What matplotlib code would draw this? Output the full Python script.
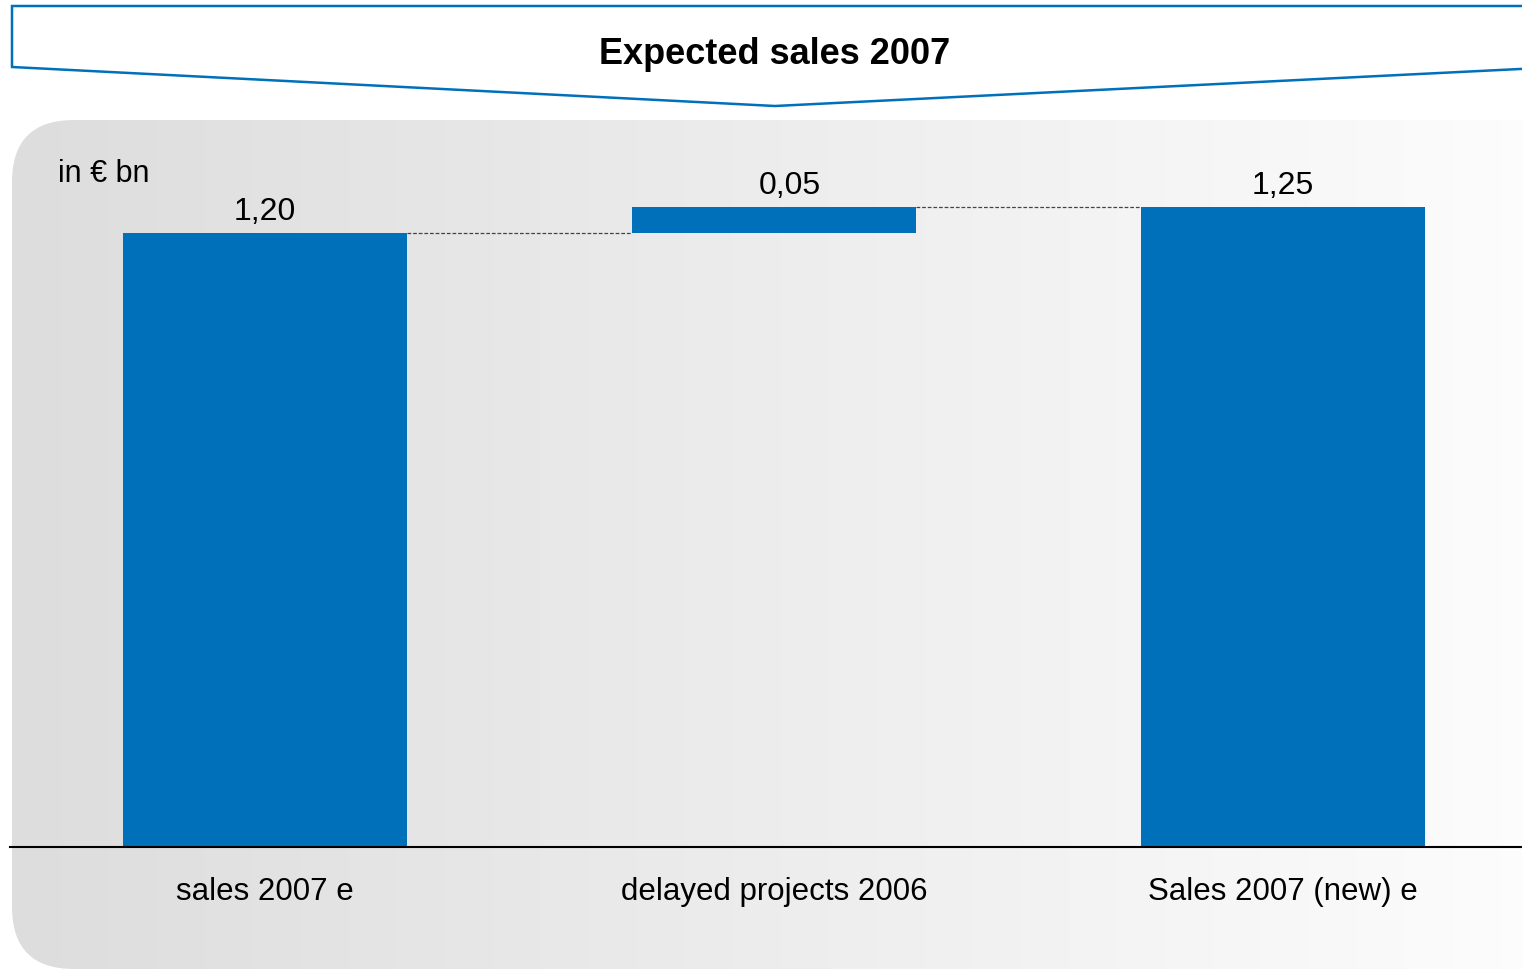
import matplotlib
matplotlib.use("Agg")
import matplotlib.pyplot as plt
import numpy as np
from matplotlib.patches import FancyBboxPatch, Polygon

plt.rcParams["font.family"] = ["Liberation Sans", "DejaVu Sans"]

# data (in EUR bn)
categories = ["sales 2007 e", "delayed projects 2006", "Sales 2007 (new) e"]
start_value = 1.20
delta_value = 0.05
title = "Expected sales 2007"
unit_label = "in € bn"

values = [start_value, delta_value, start_value + delta_value]
bottoms = [0, start_value, 0]
labels = [f"{v:.2f}".replace(".", ",") for v in values]

W, H = 1522, 971
BLUE = "#0070ba"

fig = plt.figure(figsize=(W / 100, H / 100), dpi=100)
fig.patch.set_facecolor("white")

# background layer in pixel coordinates
bg = fig.add_axes([0, 0, 1, 1], zorder=0)
bg.axis("off")

grad = np.linspace(221, 254, 512) / 255.0
grad = np.dstack([grad, grad, grad])
im = bg.imshow(grad, extent=(12, 1600, 1050, 120), aspect="auto",
               interpolation="bilinear")
box = FancyBboxPatch((12, 120), 1700, 849,
                     boxstyle="round,pad=0,rounding_size=62",
                     facecolor="none", edgecolor="none")
bg.add_patch(box)
im.set_clip_path(box)
bg.set_xlim(0, W)
bg.set_ylim(H, 0)

banner = Polygon([(12, 6), (1540, 6), (1540, 68), (775, 106), (12, 67)],
                 closed=True, facecolor="white", edgecolor=BLUE,
                 linewidth=1.8, clip_on=False)
bg.add_patch(banner)
bg.text(775, 54, title, ha="center", va="center", fontsize=26,
        fontweight="bold", color="black")
bg.text(58, 174, unit_label, ha="left", va="center", fontsize=22)

# chart axes: baseline at y=847 px, 1 bn = 511.7 px
base_px, top_px = 847, 120
ax = fig.add_axes([0, (H - base_px) / H, 1, (base_px - top_px) / H], zorder=1)
ax.patch.set_alpha(0)
x = np.arange(len(categories))
ax.set_xlim(-265 / 509, (W - 265) / 509)
ax.set_ylim(0, (base_px - top_px) / 511.7)
width = 284 / 509

ax.bar(x, values, width=width, bottom=bottoms, color=BLUE, zorder=2)

# connectors between consecutive bar tops
tops = [b + v for b, v in zip(bottoms, values)]
for i in range(len(x) - 1):
    ax.plot([x[i] + width / 2, x[i + 1] - width / 2], [tops[i], tops[i]],
            linestyle=(0, (3, 1.5)), color="#444444", linewidth=0.9, zorder=1)

offsets = [0, 16, 0]
for xi, t, lab, dx in zip(x, tops, labels, offsets):
    ax.annotate(lab, (xi, t), xytext=(dx, 21), textcoords="offset pixels",
                ha="center", va="center", fontsize=23)

for xi, cat in zip(x, categories):
    ax.annotate(cat, (xi, 0), xytext=(0, -45), textcoords="offset pixels",
                ha="center", va="center", fontsize=22.5, annotation_clip=False)

ax.axhline(0, xmin=10 / W, xmax=1, color="black", linewidth=1.5, zorder=3,
           clip_on=False)
ax.axis("off")

fig.savefig("out.png", dpi=100, facecolor="white")
